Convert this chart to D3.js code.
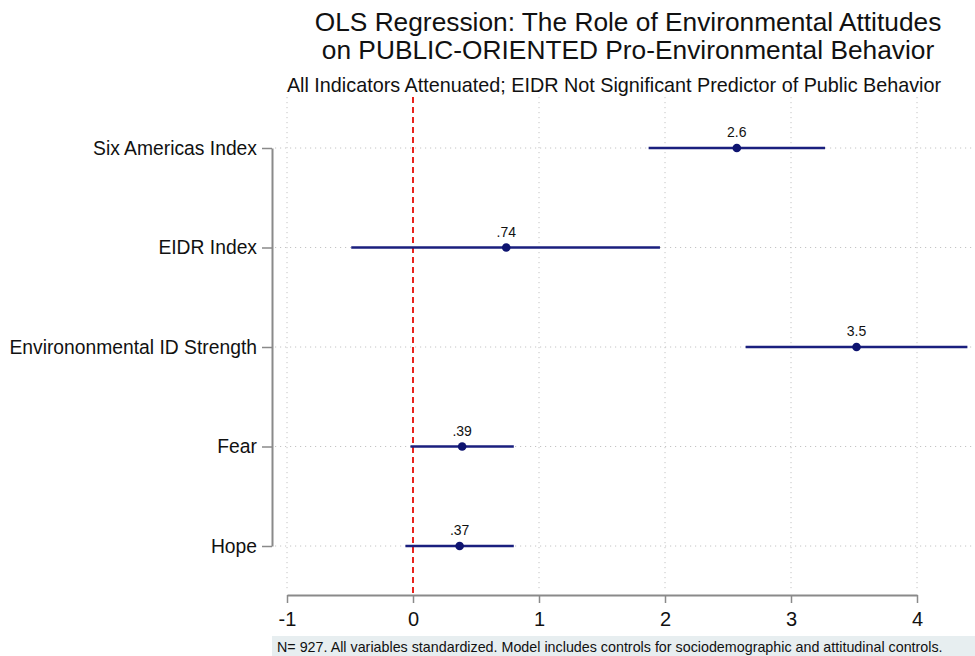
<!DOCTYPE html>
<html>
<head>
<meta charset="utf-8">
<script src="https://cdn.jsdelivr.net/npm/d3@7"></script>
<style>
  html, body { margin: 0; padding: 0; background: #fff; }
  svg { display: block; font-family: "Liberation Sans", Arial, Helvetica, sans-serif; }
</style>
</head>
<body>
<svg id="chart" width="975" height="656"></svg>
<script>
// Coefficients with 95% confidence intervals
const predictors = ["Six Americas Index", "EIDR Index", "Environonmental ID Strength", "Fear", "Hope"];
const estimates  = [2.57, 0.74, 3.52, 0.39, 0.37];
const ciLow      = [1.87, -0.49, 2.64, -0.02, -0.06];
const ciHigh     = [3.27, 1.96, 4.40, 0.80, 0.80];
const xTicks     = [-1, 0, 1, 2, 3, 4];

const titleLines = ["OLS Regression: The Role of Environmental Attitudes",
                    "on PUBLIC-ORIENTED Pro-Environmental Behavior"];
const subtitle = "All Indicators Attenuated; EIDR Not Significant Predictor of Public Behavior";
const note = "N= 927. All variables standardized. Model includes controls for sociodemographic and attitudinal controls.";

const rows = predictors.map((name, i) => ({ name, est: estimates[i], lo: ciLow[i], hi: ciHigh[i] }));

const svg = d3.select("#chart");
const W = 975, H = 656;

const x = d3.scaleLinear().domain([-1, 4]).range([287, 917]);
const y = d3.scalePoint().domain(predictors).range([148, 546]);

const plotTop = 97, plotBottom = 592, plotLeft = 275, plotRight = W;
const axisY = 595, axisX = 272;

// Two significant digits, Stata-style without the leading zero
const fmtLabel = v => d3.format(".2")(v).replace(/^0\./, ".").replace(/^-0\./, "-.");

// Grid
const gridColor = "#c4c4c4";
svg.append("g").selectAll("line.vg")
  .data(xTicks.filter(t => t !== 0))
  .join("line")
  .attr("x1", d => x(d)).attr("x2", d => x(d))
  .attr("y1", plotTop).attr("y2", plotBottom)
  .attr("stroke", gridColor).attr("stroke-width", 1)
  .attr("stroke-dasharray", "1.2,3.8");

svg.append("g").selectAll("line.hg")
  .data(predictors)
  .join("line")
  .attr("x1", plotLeft).attr("x2", plotRight)
  .attr("y1", d => y(d)).attr("y2", d => y(d))
  .attr("stroke", gridColor).attr("stroke-width", 1)
  .attr("stroke-dasharray", "1.2,3.8");

// Reference line at zero
svg.append("line")
  .attr("x1", x(0)).attr("x2", x(0))
  .attr("y1", plotTop).attr("y2", axisY)
  .attr("stroke", "#e8231c").attr("stroke-width", 2)
  .attr("stroke-dasharray", "6,4");

// Axes
const axisColor = "#8a8a8a";
const xAxis = svg.append("g")
  .attr("transform", `translate(0,${axisY})`)
  .call(d3.axisBottom(x).tickValues(xTicks).tickSize(8).tickSizeOuter(0).tickPadding(9)
    .tickFormat(d => String(d)));
xAxis.select(".domain").attr("stroke", axisColor).attr("stroke-width", 2);
xAxis.selectAll(".tick line").attr("stroke", axisColor).attr("stroke-width", 1.5);
xAxis.selectAll(".tick text").attr("fill", "#111").attr("font-size", 20)
  .attr("font-family", "'Liberation Sans', Arial, sans-serif");

const yAxis = svg.append("g")
  .attr("transform", `translate(${axisX},0)`)
  .call(d3.axisLeft(y).tickSize(10).tickSizeOuter(0).tickPadding(5));
yAxis.select(".domain").attr("stroke", axisColor).attr("stroke-width", 2);
yAxis.selectAll(".tick line").attr("stroke", axisColor).attr("stroke-width", 1.5);
yAxis.selectAll(".tick text").attr("fill", "#111").attr("font-size", 19.3)
  .attr("font-family", "'Liberation Sans', Arial, sans-serif");

// Confidence intervals and point estimates
const navy = "#1a1f7e";
const marks = svg.append("g");
marks.selectAll("line.ci")
  .data(rows)
  .join("line")
  .attr("x1", d => x(d.lo)).attr("x2", d => x(d.hi))
  .attr("y1", d => y(d.name)).attr("y2", d => y(d.name))
  .attr("stroke", navy).attr("stroke-width", 2.4);

marks.selectAll("circle")
  .data(rows)
  .join("circle")
  .attr("cx", d => x(d.est)).attr("cy", d => y(d.name))
  .attr("r", 4.3).attr("fill", "#0e1470");

marks.selectAll("text.val")
  .data(rows)
  .join("text")
  .attr("x", d => x(d.est)).attr("y", d => y(d.name) - 11)
  .attr("text-anchor", "middle")
  .attr("font-size", 14).attr("fill", "#111")
  .text(d => fmtLabel(d.est));

// Titles
svg.append("g").selectAll("text")
  .data(titleLines)
  .join("text")
  .attr("x", 628).attr("y", (d, i) => 31 + i * 28)
  .attr("text-anchor", "middle")
  .attr("font-size", 26.3).attr("fill", "#111")
  .text(d => d);

svg.append("text")
  .attr("x", 614).attr("y", 92)
  .attr("text-anchor", "middle")
  .attr("font-size", 19.8).attr("fill", "#111")
  .text(subtitle);

// Note box
svg.append("rect")
  .attr("x", 272).attr("y", 636).attr("width", W - 272).attr("height", 20)
  .attr("fill", "#e7eef0");
svg.append("text")
  .attr("x", 277).attr("y", 652)
  .attr("font-size", 14.3).attr("fill", "#111")
  .text(note);
</script>
</body>
</html>
